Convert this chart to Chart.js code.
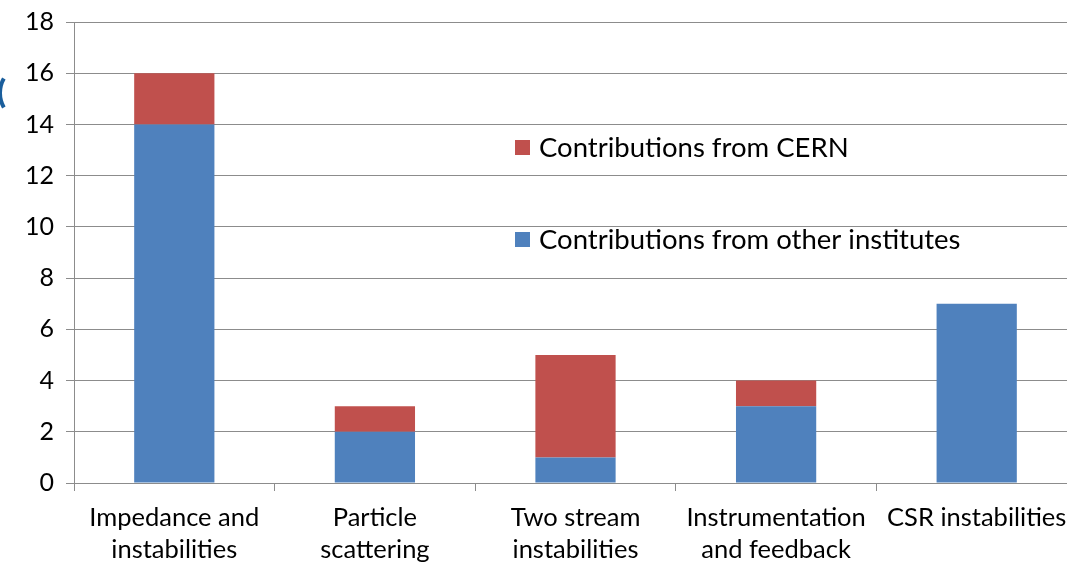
<!DOCTYPE html>
<html>
<head>
<meta charset="utf-8">
<script src="https://cdn.jsdelivr.net/npm/chart.js@4"></script>
<style>
  html, body { margin: 0; padding: 0; background: #fff; overflow: hidden; }
  #wrap { width: 1078px; height: 600px; position: relative; }
</style>
</head>
<body>
<div id="wrap"><canvas id="c"></canvas></div>
<script>
// categories and values
const categories = [
    ['Impedance and', 'instabilities'],
    ['Particle', 'scattering'],
    ['Two stream', 'instabilities'],
    ['Instrumentation', 'and feedback'],
    'CSR instabilities'
];
const otherInstitutes = [14, 2, 1, 3, 7];
const fromCern = [2, 1, 4, 1, 0];
const yTicks = [0, 2, 4, 6, 8, 10, 12, 14, 16, 18];

const FONT = 'Lato, "Open Sans", sans-serif';
const GRID = '#8c8c8c';

// legend sits inside the plot, CERN first
const insideLegend = {
    id: 'insideLegend',
    afterDraw(chart) {
        const ctx = chart.ctx;
        const items = [chart.data.datasets[1], chart.data.datasets[0]];
        const ys = [147, 239];
        ctx.save();
        ctx.font = '27.5px ' + FONT;
        ctx.textBaseline = 'middle';
        items.forEach((ds, i) => {
            ctx.fillStyle = ds.backgroundColor;
            ctx.fillRect(515, ys[i] - 7, 15, 15);
            ctx.fillStyle = '#000';
            ctx.fillText(ds.label, 539, ys[i] + 1);
        });
        // bit of a slide element clipped at the left edge
        ctx.strokeStyle = '#1a5e9c';
        ctx.lineWidth = 4;
        ctx.beginPath();
        ctx.arc(29, 93, 29, Math.PI - 0.52, Math.PI + 0.52);
        ctx.stroke();
        ctx.restore();
    }
};

new Chart(document.getElementById('c'), {
    type: 'bar',
    data: {
        labels: categories,
        datasets: [
            {
                label: 'Contributions from other institutes',
                data: otherInstitutes,
                backgroundColor: '#4f81bd'
            },
            {
                label: 'Contributions from CERN',
                data: fromCern,
                backgroundColor: '#c0504d'
            }
        ]
    },
    options: {
        responsive: true,
        maintainAspectRatio: false,
        animation: false,
        layout: { padding: { top: 22, right: 1, left: 0, bottom: 0 } },
        plugins: { legend: { display: false }, tooltip: { enabled: false } },
        datasets: { bar: { categoryPercentage: 1, barPercentage: 0.4 } },
        scales: {
            x: {
                stacked: true,
                afterFit(s) { s.height = 117; s.paddingLeft = 0; s.paddingRight = 0; },
                grid: { drawOnChartArea: false, drawTicks: true, tickLength: 8, color: GRID, offset: true },
                border: { color: GRID },
                ticks: { color: '#000', font: { family: FONT, size: 25.5, lineHeight: 1.25 }, padding: 11, maxRotation: 0, autoSkip: false }
            },
            y: {
                stacked: true,
                min: 0,
                max: 18,
                afterFit(s) { s.width = 74; s.paddingTop = 0; s.paddingBottom = 0; },
                afterBuildTicks(s) { s.ticks = yTicks.map(v => ({ value: v })); },
                grid: { color: GRID, tickLength: 8 },
                border: { color: GRID },
                ticks: { color: '#000', font: { family: FONT, size: 25 }, padding: 12 }
            }
        }
    },
    plugins: [insideLegend]
});
</script>
</body>
</html>
